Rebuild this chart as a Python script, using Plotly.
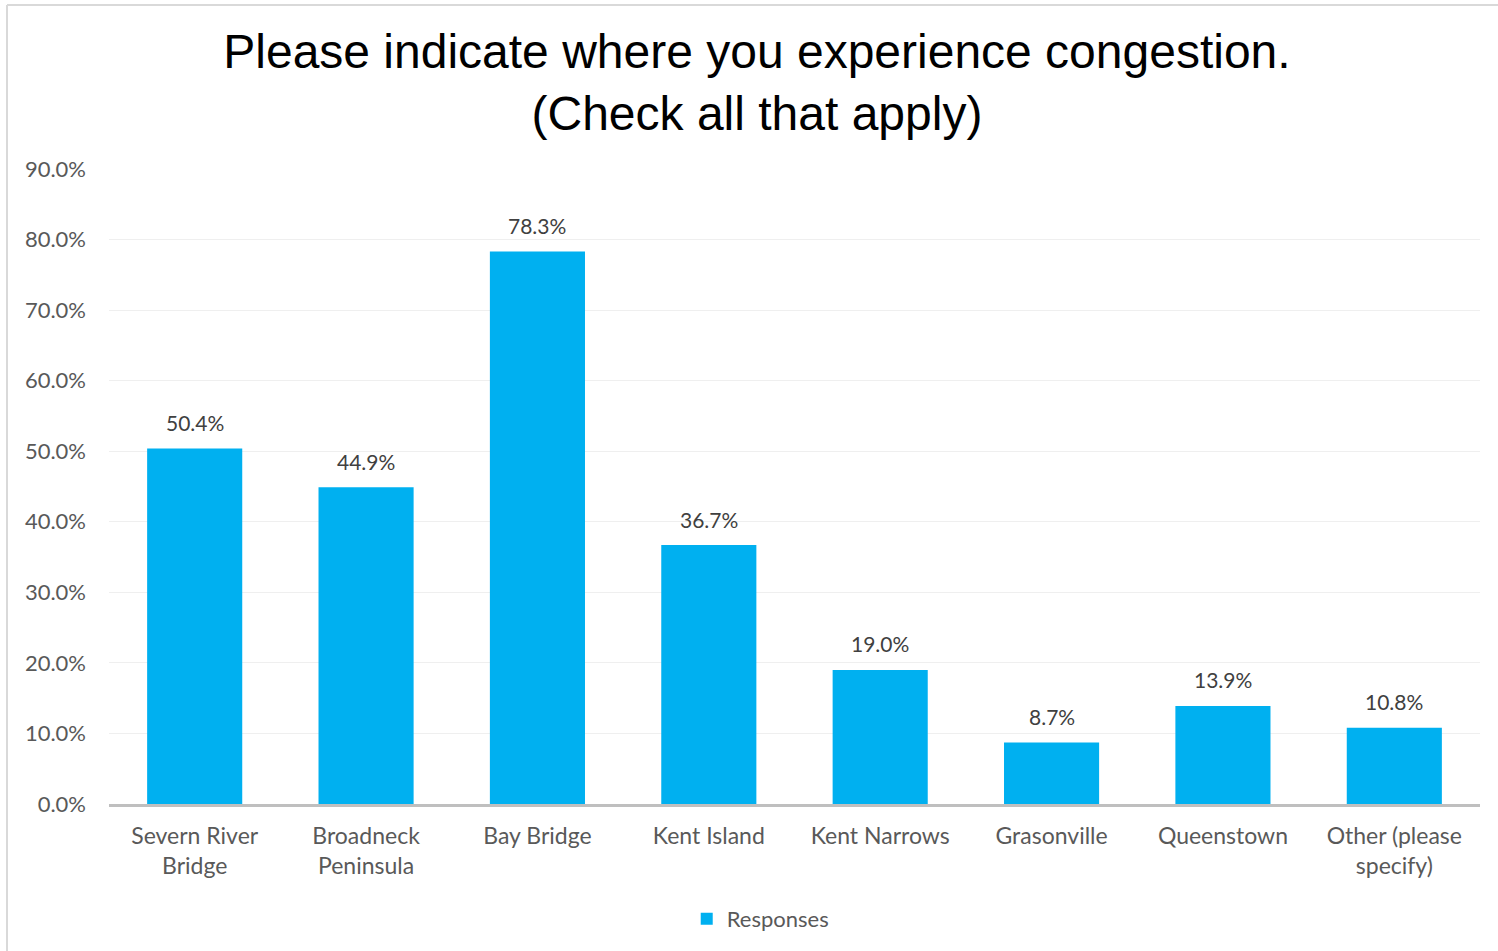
import plotly.graph_objects as go

# Survey results: share of respondents reporting congestion at each location
categories = [
    "Severn River<br>Bridge",
    "Broadneck<br>Peninsula",
    "Bay Bridge",
    "Kent Island",
    "Kent Narrows",
    "Grasonville",
    "Queenstown",
    "Other (please<br>specify)",
]
responses = [50.4, 44.9, 78.3, 36.7, 19.0, 8.7, 13.9, 10.8]
tick_values = [0, 10, 20, 30, 40, 50, 60, 70, 80, 90]
tick_labels = [f"{v:.1f}%" for v in tick_values]

label_font = "Lato, Calibri, 'Open Sans', sans-serif"

fig = go.Figure()
fig.add_trace(go.Bar(
    x=categories,
    y=responses,
    name="Responses",
    marker=dict(color="#00b0f0", line=dict(width=0)),
))

# value labels above each bar
for cat, val in zip(categories, responses):
    fig.add_annotation(
        x=cat, y=val, text=f"{val:.1f}%",
        showarrow=False, yanchor="middle", yshift=26,
        font=dict(family=label_font, size=21, color="#404040"),
    )

fig.update_layout(
    width=1498,
    height=951,
    margin=dict(l=109, r=18, t=169, b=147, autoexpand=False),
    paper_bgcolor="white",
    plot_bgcolor="white",
    bargap=0.445,
    title=dict(
        text="Please indicate where you experience congestion.<br>(Check all that apply)",
        x=0.5053,
        xanchor="center",
        xref="container",
        y=1 - 68 / 951,
        yanchor="middle",
        yref="container",
        font=dict(family="Liberation Sans, Arial, sans-serif", size=48, color="#000000"),
    ),
    xaxis=dict(
        automargin=False,
        showgrid=False,
        showline=True,
        linecolor="#bfbfbf",
        linewidth=3,
        ticks="",
        tickfont=dict(family=label_font, size=23, color="#595959"),
        ticklabelstandoff=9,
    ),
    yaxis=dict(
        automargin=False,
        range=[0, 90],
        tickvals=tick_values,
        ticktext=tick_labels,
        showgrid=True,
        gridcolor="#efefef",
        gridwidth=1,
        zeroline=False,
        showline=False,
        ticks="",
        tickfont=dict(family=label_font, size=22, color="#595959"),
        ticklabelstandoff=22,
    ),
    showlegend=True,
    legend=dict(
        orientation="h",
        x=0.475,
        xanchor="center",
        y=-0.148,
        yanchor="top",
        font=dict(family=label_font, size=22, color="#595959"),
        itemwidth=30,
    ),
    shapes=[
        # chart frame (left and top edges)
        dict(type="line", xref="paper", yref="paper",
             x0=(7 - 109) / 1371, x1=(7 - 109) / 1371,
             y0=(804 - 5) / 635, y1=(804 - 960) / 635,
             line=dict(color="#d9d9d9", width=2)),
        dict(type="line", xref="paper", yref="paper",
             x0=(7 - 109) / 1371, x1=(1510 - 109) / 1371,
             y0=(804 - 5) / 635, y1=(804 - 5) / 635,
             line=dict(color="#d9d9d9", width=2)),
    ],
)

fig.write_html("out.html")
